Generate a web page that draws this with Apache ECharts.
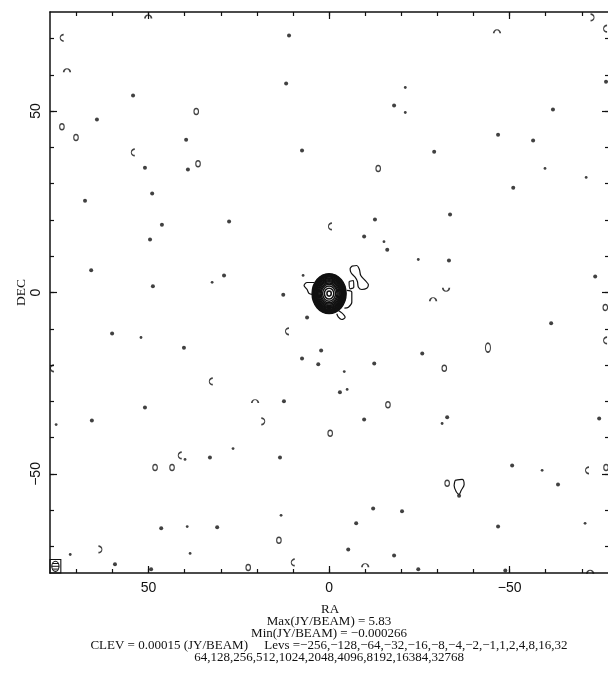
<!DOCTYPE html>
<html>
<head>
<meta charset="utf-8">
<script src="https://cdn.jsdelivr.net/npm/echarts@6/dist/echarts.min.js"></script>
<style>
html,body{margin:0;padding:0;background:#fff;}
#chart{width:608px;height:682px;}
</style>
</head>
<body>
<div id="chart"></div>
<script>
// ---- axis ticks / labels ----
const raRange = [-77.8, 77.3];
const decRange = [-77.3, 77.3];
const minorTicks = [-70,-60,-50,-40,-30,-20,-10,0,10,20,30,40,50,60,70];
const majorTicks = [-50, 0, 50];
const tickLabels = [-50, 0, 50];

// ---- central source: contour ring semi-axes (RA, DEC units) ----
const sourceCenter = [0, -0.3];
const ringRadiiRA  = [4.7, 4.55, 4.4, 4.25, 4.07, 3.9, 3.7, 3.5, 3.28, 3.05, 2.8, 2.5, 2.2, 1.8, 1.3, 0.6];
const ringRadiiDEC = [5.5, 5.32, 5.14, 4.96, 4.76, 4.55, 4.32, 4.08, 3.82, 3.55, 3.25, 2.9, 2.55, 2.1, 1.5, 0.7];

// ---- extended low-level contours near the source ----
const loopWest = [[4.16,2.75],[6.09,2.75],[6.93,1.93],[6.09,0.83],[5.54,-0.28],[4.16,-0.55]];
const loopEast = [[-6.29,7.25],[-7.67,7.44],[-8.39,6.34],[-8.78,4.68],[-9.97,3.31],[-10.89,2.12],[-10.44,1.18],[-9.06,0.83],[-8.12,1.46],[-7.84,3.03],[-7.2,4.21],[-6.09,5.43],[-5.82,6.53],[-6.29,7.25]];
const loopEastInner = [[-5.54,3.03],[-6.73,3.31],[-6.84,1.46],[-5.82,1.02],[-5.54,3.03]];
const stubSouthEast = [[-4.9,0.6],[-6.29,0.08],[-6.29,-2.67],[-5.35,-4.04],[-4.24,-4.32]];
const loopSouth = [[-2.0,-4.6],[-3.51,-5.6],[-4.43,-6.8],[-3.51,-7.44],[-2.58,-6.8],[-2.13,-5.87]];
const teardrop = [[-34.9,-51.79],[-36.84,-51.52],[-37.4,-52.89],[-36.57,-54.55],[-36.0,-55.6],[-35.18,-54.82],[-34.63,-53.17],[-34.9,-51.79]];

// ---- noise contours ----
const noiseDots = [[11.1,70.8],[11.9,57.6],[7.5,39.1],[-18.0,51.5],[-62.0,50.4],[-46.8,43.5],[-56.5,41.9],[-29.1,38.8],[-51.0,28.9],[-76.7,58.1],[54.3,54.3],[64.3,47.7],[39.6,42.1],[51.0,34.4],[39.1,33.9],[49.0,27.3],[67.6,25.3],[46.3,18.7],[49.6,14.6],[65.9,6.1],[48.8,1.7],[60.1,-11.3],[40.2,-15.2],[27.7,19.6],[-12.7,20.1],[-9.7,15.4],[-16.1,11.8],[29.1,4.7],[12.7,-0.6],[6.1,-6.9],[2.2,-16.0],[7.5,-18.2],[3.0,-19.8],[-12.5,-19.6],[-3.0,-27.5],[12.5,-30.0],[-33.5,21.5],[-33.2,8.8],[-73.7,4.4],[-61.5,-8.5],[-25.8,-16.8],[65.7,-35.3],[51.0,-31.7],[33.0,-45.5],[13.6,-45.5],[-9.7,-35.0],[-32.7,-34.4],[-74.8,-34.7],[-50.7,-47.7],[-63.4,-52.9],[-12.2,-59.5],[-20.2,-60.3],[-7.5,-63.6],[-46.8,-64.5],[-5.3,-70.8],[-18.0,-72.5],[-24.7,-76.3],[-48.8,-76.6],[46.5,-65.0],[31.0,-64.7],[49.3,-76.3],[59.3,-74.9],[-36.0,-56.0]];
const noiseTinyDots = [[-21.1,56.5],[-21.1,49.6],[-59.8,34.2],[-71.2,31.7],[52.1,-12.4],[-15.2,14.0],[32.4,2.8],[7.2,4.7],[-4.2,-21.8],[-5.0,-26.7],[-24.7,9.1],[75.6,-36.4],[39.9,-46.0],[26.6,-43.0],[-31.3,-36.1],[-59.0,-49.0],[13.3,-61.4],[-70.9,-63.6],[39.3,-64.5],[71.7,-72.2],[38.5,-71.9]];
const noiseRings = [[36.8,49.9],[74.0,45.7],[70.1,42.7],[36.3,35.5],[-13.6,34.2],[-16.3,-30.9],[-31.9,-20.9],[-76.5,-4.1],[-0.3,-38.8],[48.2,-48.2],[43.5,-48.2],[-32.7,-52.6],[-76.7,-48.2],[13.9,-68.3],[22.4,-75.8]];
const noiseBigRings = [[-44.0,-15.2]];
// [RA, DEC, opening direction in degrees: 0 right, 90 up, 180 left, -90 down]
const noiseArcs = [[74.0,70.2,0],[72.6,61.2,-90],[54.3,38.6,0],[50.1,76.0,-90],[-46.5,71.9,-90],[-76.5,72.7,0],[-72.9,75.8,180],[-0.3,18.2,0],[11.6,-10.7,0],[32.7,-24.5,0],[20.5,-30.0,-90],[18.3,-35.5,180],[41.3,-44.9,0],[76.7,-20.9,0],[-76.5,-13.2,0],[-71.5,-49.0,0],[10.0,-74.4,0],[-10.0,-75.2,-90],[-72.3,-77.0,-90],[63.4,-70.8,180],[-32.4,0.8,90],[-28.8,-1.9,-90]];

// ---- beam box (corners) and beam ellipse ----
const beamBox = [[77.3,-73.6],[74.3,-77.3]];
const beam = [75.8,-75.45,1.0,1.4];

// ---- annotation text ----
const infoLines = [
  'Max(JY/BEAM) = 5.83',
  'Min(JY/BEAM) = \u22120.000266',
  'CLEV = 0.00015 (JY/BEAM)     Levs =\u2212256,\u2212128,\u221264,\u221232,\u221216,\u22128,\u22124,\u22122,\u22121,1,2,4,8,16,32',
  '64,128,256,512,1024,2048,4096,8192,16384,32768'
];

const INK = '#111';
const fmt = v => v < 0 ? '\u2212' + (-v) : String(v);

function xAx(pos, ticks, len, withLabels, showLine) {
  return {
    type:'value', position:pos, min:raRange[0], max:raRange[1], inverse:true,
    axisLine:{show:showLine, onZero:false, lineStyle:{color:INK, width:1.5}},
    axisTick:{show:true, inside:true, length:len, customValues:ticks, lineStyle:{color:INK, width:1.2}},
    axisLabel:withLabels ? {show:true, customValues:tickLabels, formatter:fmt, color:INK, fontFamily:'Liberation Sans', fontSize:14, margin:8} : {show:false},
    splitLine:{show:false},
    name: withLabels ? 'RA' : '', nameLocation:'middle', nameGap:30, nameMoveOverlap:false,
    nameTextStyle:{fontFamily:'Liberation Serif', fontSize:13, color:INK}
  };
}
function yAx(pos, ticks, len, withLabels, showLine) {
  return {
    type:'value', position:pos, min:decRange[0], max:decRange[1],
    axisLine:{show:showLine, onZero:false, lineStyle:{color:INK, width:1.5}},
    axisTick:{show:true, inside:true, length:len, customValues:ticks, lineStyle:{color:INK, width:1.2}},
    axisLabel:withLabels ? {show:true, customValues:tickLabels, formatter:fmt, rotate:90, color:INK, fontFamily:'Liberation Sans', fontSize:14, margin:7} : {show:false},
    splitLine:{show:false},
    name: withLabels ? 'DEC' : '', nameLocation:'middle', nameGap:22, nameRotate:90, nameMoveOverlap:false,
    nameTextStyle:{fontFamily:'Liberation Serif', fontSize:13.5, color:INK}
  };
}

const ringData = ringRadiiRA.map((r,i) => [sourceCenter[0], sourceCenter[1], r, ringRadiiDEC[i]]);

function lineSeries(data) {
  return {type:'line', data:data, symbol:'none', smooth:0.35, xAxisIndex:0, yAxisIndex:0,
    lineStyle:{color:INK, width:1.2}, z:3, silent:true, animation:false};
}

const arcPath = 'path://M8,1 A7,7 0 0,0 8,15';

const option = {
  backgroundColor:'#fff',
  animation:false,
  grid:{left:50, top:12, width:560, height:561, show:false, containLabel:false, outerBoundsMode:'none'},
  xAxis:[ xAx('bottom', minorTicks, 4, true, true), xAx('bottom', majorTicks, 7, false, false),
          xAx('top', minorTicks, 4, false, true), xAx('top', majorTicks, 7, false, false) ],
  yAxis:[ yAx('left', minorTicks, 4, true, true), yAx('left', majorTicks, 7, false, false),
          yAx('right', minorTicks, 5, false, true), yAx('right', majorTicks, 8, false, false) ],
  series:[
    {
      type:'custom', xAxisIndex:0, yAxisIndex:0, data:ringData, z:4, silent:true,
      renderItem:(params, api) => {
        const c = api.coord([api.value(0), api.value(1)]);
        const s = api.size([api.value(2), api.value(3)]);
        return {type:'ellipse', shape:{cx:c[0], cy:c[1], rx:s[0], ry:s[1]},
          style:{fill:'none', stroke:INK, lineWidth:1.5}};
      }
    },
    lineSeries(loopWest), lineSeries(loopEast), lineSeries(loopEastInner),
    lineSeries(stubSouthEast), lineSeries(loopSouth), lineSeries(teardrop),
    {type:'scatter', xAxisIndex:0, yAxisIndex:0, data:noiseDots, symbol:'circle', symbolSize:4,
      itemStyle:{color:INK}, silent:true},
    {type:'scatter', xAxisIndex:0, yAxisIndex:0, data:noiseTinyDots, symbol:'circle', symbolSize:2.8,
      itemStyle:{color:INK}, silent:true},
    {type:'scatter', xAxisIndex:0, yAxisIndex:0, data:noiseRings, symbol:'circle', symbolSize:[4.5,6],
      itemStyle:{color:'none', borderColor:INK, borderWidth:1.3}, silent:true},
    {type:'scatter', xAxisIndex:0, yAxisIndex:0, data:noiseBigRings, symbol:'circle', symbolSize:[5,9],
      itemStyle:{color:'none', borderColor:INK, borderWidth:1.4}, silent:true},
    {type:'scatter', xAxisIndex:0, yAxisIndex:0, data:noiseArcs, symbol:arcPath, symbolSize:[3.5,6.5],
      symbolRotate:(v) => v[2],
      itemStyle:{color:'none', borderColor:INK, borderWidth:1.3}, silent:true},
    {
      type:'custom', xAxisIndex:0, yAxisIndex:0, data:[0], z:5, silent:true, clip:false,
      renderItem:(params, api) => {
        const p0 = api.coord(beamBox[0]);
        const p1 = api.coord(beamBox[1]);
        const bc = api.coord([beam[0], beam[1]]);
        const bs = api.size([beam[2], beam[3]]);
        const children = [
          {type:'rect', shape:{x:Math.min(p0[0],p1[0]), y:Math.min(p0[1],p1[1]), width:Math.abs(p1[0]-p0[0]), height:Math.abs(p1[1]-p0[1])},
            style:{fill:'none', stroke:INK, lineWidth:1.1}},
          {type:'ellipse', shape:{cx:bc[0], cy:bc[1], rx:bs[0], ry:bs[1]}, style:{fill:'none', stroke:INK, lineWidth:1.1}},
          {type:'line', shape:{x1:bc[0]-bs[0], y1:bc[1], x2:bc[0]+bs[0], y2:bc[1]}, style:{stroke:INK, lineWidth:1}},
          {type:'line', shape:{x1:bc[0]-bs[0]*0.8, y1:bc[1]-bs[1]*0.55, x2:bc[0]+bs[0]*0.8, y2:bc[1]-bs[1]*0.55}, style:{stroke:INK, lineWidth:1}},
          {type:'line', shape:{x1:bc[0]-bs[0]*0.8, y1:bc[1]+bs[1]*0.55, x2:bc[0]+bs[0]*0.8, y2:bc[1]+bs[1]*0.55}, style:{stroke:INK, lineWidth:1}}
        ];
        return {type:'group', children:children};
      }
    }
  ],
  graphic: infoLines.map((t,i) => ({
    type:'text', x:329, y:622 + i*11.8, silent:true,
    style:{text:t, textAlign:'center', textVerticalAlign:'middle', fill:INK,
      font:'13px "Liberation Serif"'}
  }))
};

const chart = echarts.init(document.getElementById('chart'), null, {renderer:'canvas'});
chart.setOption(option);
</script>
</body>
</html>
